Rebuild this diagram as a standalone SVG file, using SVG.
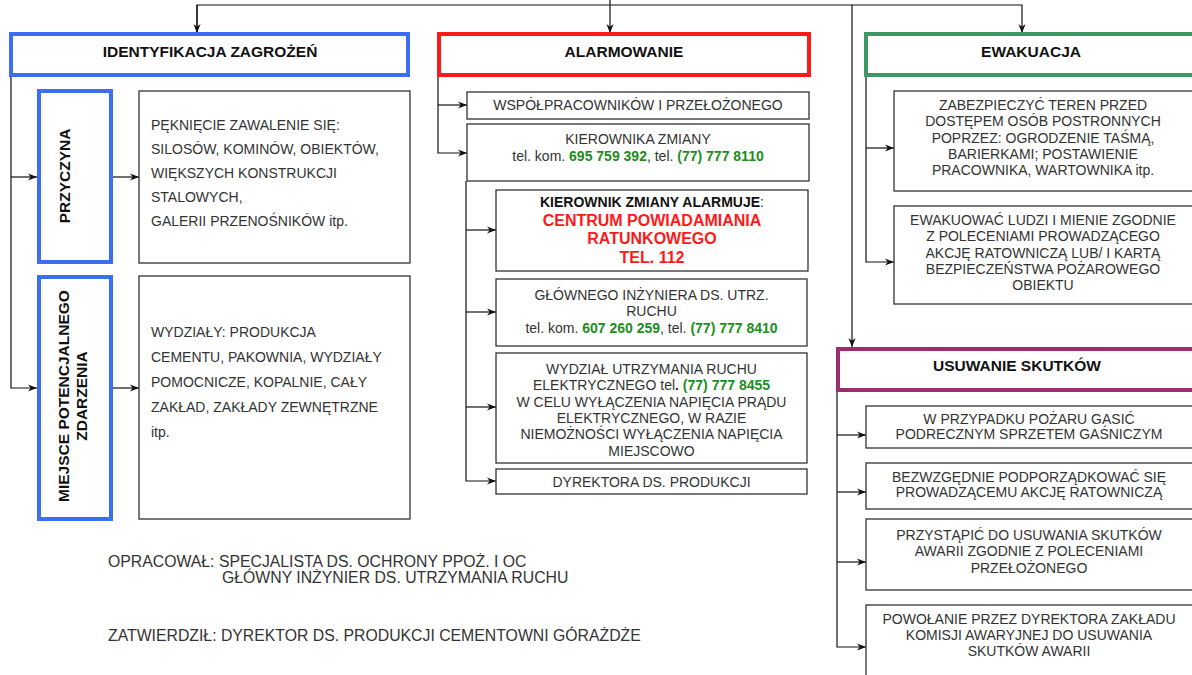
<svg xmlns="http://www.w3.org/2000/svg" width="1192" height="675" viewBox="0 0 1192 675">
<defs>
<marker id="arr" viewBox="0 0 10 8" refX="10" refY="4" markerWidth="9" markerHeight="8" markerUnits="userSpaceOnUse" orient="auto"><path d="M0,0 L10,4 L0,8 L3,4 z" fill="#111"/></marker>
<style>
.box{fill:#fff;stroke:#333;stroke-width:1.3}
.hb{fill:#fff;stroke:#3c6ef5;stroke-width:4}
.hr{fill:#fff;stroke:#ff1a1a;stroke-width:4}
.hg{fill:#fff;stroke:#3b9a63;stroke-width:4}
.hp{fill:#fff;stroke:#9b2d6e;stroke-width:4}
.h{font-family:"Liberation Sans",Arial,sans-serif;font-size:15.5px;font-weight:bold;fill:#111;text-anchor:middle}
.t{font-family:"Liberation Sans",Arial,sans-serif;font-size:14px;fill:#333}
.f{font-family:"Liberation Sans",Arial,sans-serif;font-size:15.8px;fill:#333}
.c{text-anchor:middle}
.g{fill:#1e8c1e;font-weight:bold}
.r{fill:#ff1a1a;font-weight:bold;font-size:16px}
.conn line,.conn polyline{stroke:#111;stroke-width:1.2;fill:none}
</style>
</defs>
<rect width="1192" height="675" fill="#fff"/>

<g class="conn">
<polyline points="197,33 197,5 1022,5 1022,33" marker-end="url(#arr)"/>
<line x1="197" y1="5" x2="197" y2="33" marker-end="url(#arr)"/>
<line x1="610" y1="0" x2="610" y2="33" marker-end="url(#arr)"/>
<line x1="852" y1="5" x2="852" y2="347" marker-end="url(#arr)"/>
<polyline points="11,77 11,388 37,388" marker-end="url(#arr)"/>
<line x1="11" y1="177" x2="37" y2="177" marker-end="url(#arr)"/>
<line x1="113" y1="177" x2="139" y2="177" marker-end="url(#arr)"/>
<line x1="113" y1="388" x2="139" y2="388" marker-end="url(#arr)"/>
<polyline points="438,77 438,153 467,153" marker-end="url(#arr)"/>
<line x1="438" y1="105" x2="467" y2="105" marker-end="url(#arr)"/>
<polyline points="466,181 466,481 496,481" marker-end="url(#arr)"/>
<line x1="466" y1="230" x2="496" y2="230" marker-end="url(#arr)"/>
<line x1="466" y1="312" x2="496" y2="312" marker-end="url(#arr)"/>
<line x1="466" y1="407" x2="496" y2="407" marker-end="url(#arr)"/>
<polyline points="866,77 866,262 894,262" marker-end="url(#arr)"/>
<line x1="866" y1="148" x2="894" y2="148" marker-end="url(#arr)"/>
<polyline points="837,391 837,647 866,647" marker-end="url(#arr)"/>
<line x1="837" y1="435" x2="866" y2="435" marker-end="url(#arr)"/>
<line x1="837" y1="492" x2="866" y2="492" marker-end="url(#arr)"/>
<line x1="837" y1="562" x2="866" y2="562" marker-end="url(#arr)"/>
</g>

<g id="identyfikacja">
<rect class="hb" x="11" y="34" width="397" height="41"/>
<text class="h" x="210" y="57">IDENTYFIKACJA ZAGROŻEŃ</text>
</g>
<g id="przyczyna">
<rect class="hb" x="39" y="91" width="72" height="171"/>
<text class="h" transform="translate(70,176) rotate(-90)">PRZYCZYNA</text>
</g>
<g id="przyczyna-opis">
<rect class="box" x="139" y="91" width="271" height="172"/>
<text class="t" x="151" y="130">PĘKNIĘCIE ZAWALENIE SIĘ:</text>
<text class="t" x="151" y="153.5">SILOSÓW, KOMINÓW, OBIEKTÓW,</text>
<text class="t" x="151" y="178">WIĘKSZYCH KONSTRUKCJI</text>
<text class="t" x="151" y="202">STALOWYCH,</text>
<text class="t" x="151" y="226">GALERII PRZENOŚNIKÓW itp.</text>
</g>
<g id="miejsce">
<rect class="hb" x="39" y="277" width="72" height="242"/>
<text class="h" transform="translate(69,396) rotate(-90)">MIEJSCE POTENCJALNEGO</text>
<text class="h" transform="translate(87,396) rotate(-90)">ZDARZENIA</text>
</g>
<g id="miejsce-opis">
<rect class="box" x="139" y="276" width="271" height="243"/>
<text class="t" x="151" y="337">WYDZIAŁY: PRODUKCJA</text>
<text class="t" x="151" y="362">CEMENTU, PAKOWNIA, WYDZIAŁY</text>
<text class="t" x="151" y="387">POMOCNICZE, KOPALNIE, CAŁY</text>
<text class="t" x="151" y="412">ZAKŁAD, ZAKŁADY ZEWNĘTRZNE</text>
<text class="t" x="151" y="437">itp.</text>
</g>

<g id="alarmowanie">
<rect class="hr" x="439" y="34" width="370" height="41"/>
<text class="h" x="624" y="57">ALARMOWANIE</text>
</g>
<g id="wspolpracownikow">
<rect class="box" x="467" y="92" width="342" height="27"/>
<text class="t c" x="638" y="110">WSPÓŁPRACOWNIKÓW I PRZEŁOŻONEGO</text>
</g>
<g id="kierownika">
<rect class="box" x="467" y="124" width="342" height="57"/>
<text class="t c" x="638" y="144">KIEROWNIKA ZMIANY</text>
<text class="t c" x="638" y="161">tel. kom. <tspan class="g">695 759 392</tspan>, tel. <tspan class="g">(77) 777 8110</tspan></text>
</g>
<g id="kierownik-alarmuje">
<rect class="box" x="496" y="190" width="312" height="81"/>
<text class="t c" x="652" y="207"><tspan font-weight="bold" fill="#111">KIEROWNIK ZMIANY ALARMUJE</tspan>:</text>
<text class="t c r" x="652" y="226">CENTRUM POWIADAMIANIA</text>
<text class="t c r" x="652" y="244">RATUNKOWEGO</text>
<text class="t c r" x="652" y="263">TEL. 112</text>
</g>
<g id="glownego">
<rect class="box" x="496" y="279" width="311" height="67"/>
<text class="t c" x="651.5" y="300">GŁÓWNEGO INŻYNIERA DS. UTRZ.</text>
<text class="t c" x="651.5" y="316">RUCHU</text>
<text class="t c" x="651.5" y="333">tel. kom. <tspan class="g">607 260 259</tspan>, tel. <tspan class="g">(77) 777 8410</tspan></text>
</g>
<g id="wydzial">
<rect class="box" x="496" y="353" width="311" height="110"/>
<text class="t c" x="651.5" y="374">WYDZIAŁ UTRZYMANIA RUCHU</text>
<text class="t c" x="651.5" y="390">ELEKTRYCZNEGO tel<tspan font-weight="bold">.</tspan>  <tspan class="g">(77) 777 8455</tspan></text>
<text class="t c" x="651.5" y="407">W CELU WYŁĄCZENIA NAPIĘCIA PRĄDU</text>
<text class="t c" x="651.5" y="423">ELEKTRYCZNEGO, W RAZIE</text>
<text class="t c" x="651.5" y="439">NIEMOŻNOŚCI WYŁĄCZENIA NAPIĘCIA</text>
<text class="t c" x="651.5" y="456">MIEJSCOWO</text>
</g>
<g id="dyrektora">
<rect class="box" x="496" y="469" width="311" height="25"/>
<text class="t c" x="651.5" y="487">DYREKTORA DS. PRODUKCJI</text>
</g>

<g id="ewakuacja">
<rect class="hg" x="866" y="34" width="330" height="41"/>
<text class="h" x="1031" y="57">EWAKUACJA</text>
</g>
<g id="zabezpieczyc">
<rect class="box" x="894" y="91" width="300" height="100"/>
<text class="t c" x="1043" y="110">ZABEZPIECZYĆ TEREN PRZED</text>
<text class="t c" x="1043" y="126">DOSTĘPEM OSÓB POSTRONNYCH</text>
<text class="t c" x="1043" y="143">POPRZEZ: OGRODZENIE TAŚMĄ,</text>
<text class="t c" x="1043" y="159">BARIERKAMI; POSTAWIENIE</text>
<text class="t c" x="1043" y="175">PRACOWNIKA, WARTOWNIKA itp.</text>
</g>
<g id="ewakuowac">
<rect class="box" x="894" y="206" width="300" height="98"/>
<text class="t c" x="1043" y="225">EWAKUOWAĆ LUDZI I MIENIE ZGODNIE</text>
<text class="t c" x="1043" y="241">Z POLECENIAMI PROWADZĄCEGO</text>
<text class="t c" x="1043" y="258">AKCJĘ RATOWNICZĄ LUB/ I KARTĄ</text>
<text class="t c" x="1043" y="274">BEZPIECZEŃSTWA POŻAROWEGO</text>
<text class="t c" x="1043" y="290">OBIEKTU</text>
</g>

<g id="usuwanie">
<rect class="hp" x="838" y="349" width="358" height="41"/>
<text class="h" x="1017" y="371">USUWANIE SKUTKÓW</text>
</g>
<g id="gasic">
<rect class="box" x="866" y="406" width="328" height="42"/>
<text class="t c" x="1029" y="424">W PRZYPADKU POŻARU GASIĆ</text>
<text class="t c" x="1029" y="439">PODRECZNYM SPRZETEM GAŚNICZYM</text>
</g>
<g id="podporzadkowac">
<rect class="box" x="866" y="463" width="328" height="46"/>
<text class="t c" x="1029" y="482">BEZWZGĘDNIE PODPORZĄDKOWAĆ SIĘ</text>
<text class="t c" x="1029" y="497">PROWADZĄCEMU AKCJĘ RATOWNICZĄ</text>
</g>
<g id="przystapic">
<rect class="box" x="866" y="519" width="328" height="71"/>
<text class="t c" x="1029" y="540">PRZYSTĄPIĆ DO USUWANIA SKUTKÓW</text>
<text class="t c" x="1029" y="556">AWARII ZGODNIE Z POLECENIAMI</text>
<text class="t c" x="1029" y="573">PRZEŁOŻONEGO</text>
</g>
<g id="powolanie">
<rect class="box" x="866" y="605" width="328" height="80"/>
<text class="t c" x="1029" y="624">POWOŁANIE PRZEZ DYREKTORA ZAKŁADU</text>
<text class="t c" x="1029" y="640">KOMISJI AWARYJNEJ DO USUWANIA</text>
<text class="t c" x="1029" y="656">SKUTKÓW AWARII</text>
</g>

<g id="podpisy">
<text class="f" x="108" y="567">OPRACOWAŁ: SPECJALISTA DS. OCHRONY PPOŻ. I OC</text>
<text class="f" x="222" y="583">GŁÓWNY INŻYNIER DS. UTRZYMANIA RUCHU</text>
<text class="f" x="108" y="641">ZATWIERDZIŁ: DYREKTOR DS. PRODUKCJI CEMENTOWNI GÓRAŻDŻE</text>
</g>
</svg>
